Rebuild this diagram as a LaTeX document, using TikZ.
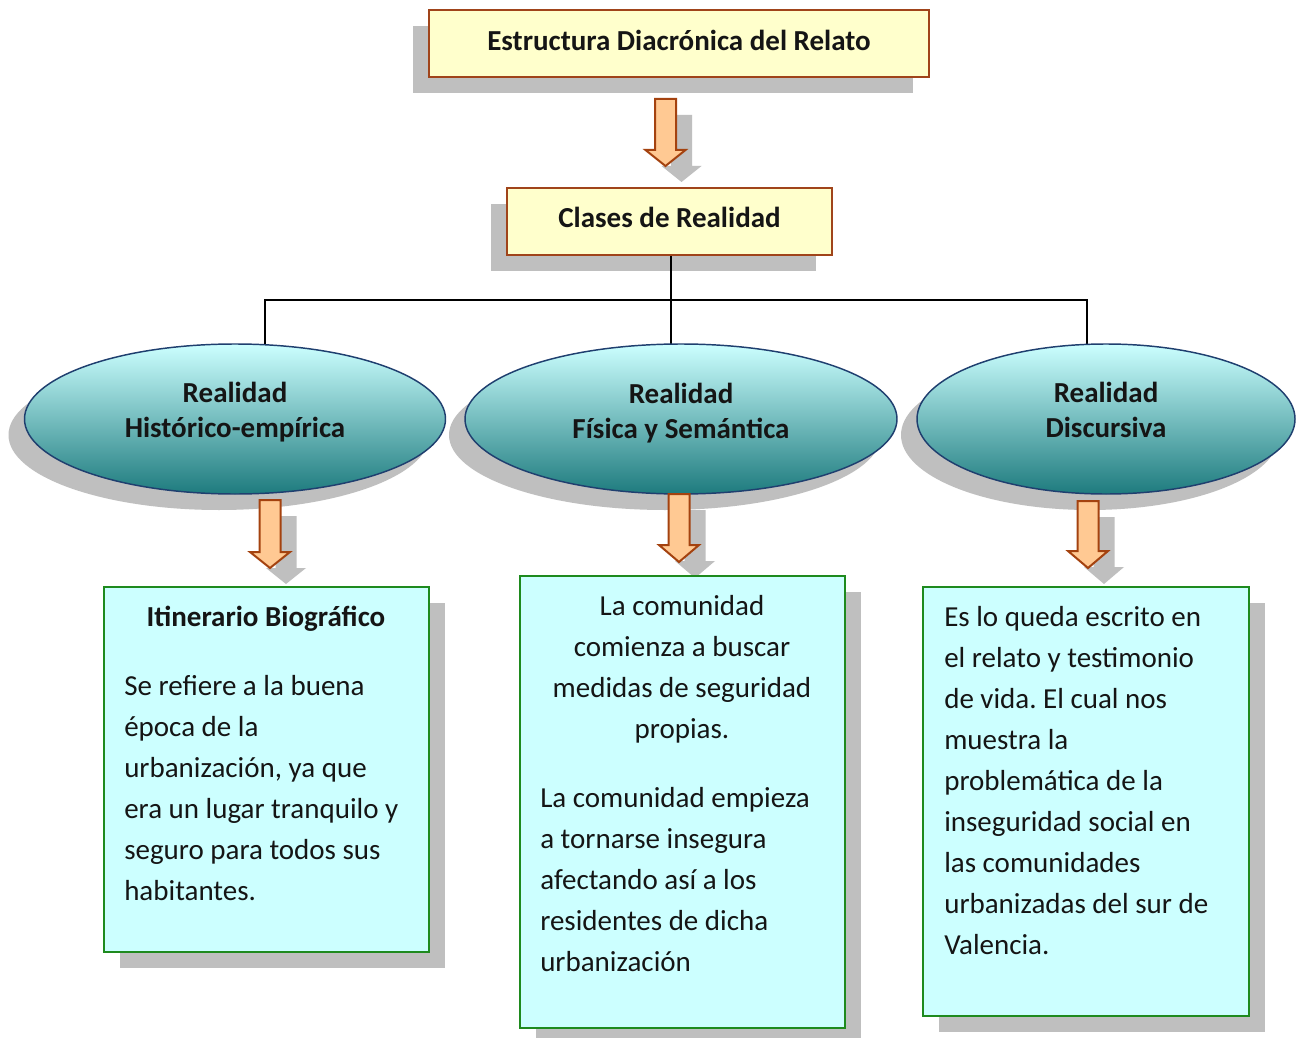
\documentclass[tikz,border=0pt]{standalone}
\usepackage{fontspec}
\setmainfont{Carlito}
\usetikzlibrary{shapes.geometric,shadows}
\definecolor{yfill}{HTML}{FFFFCC}
\definecolor{bord}{HTML}{A0441A}
\definecolor{shgray}{HTML}{BFBFBF}
\definecolor{cfill}{HTML}{CCFFFF}
\definecolor{gbord}{HTML}{1E8A1E}
\definecolor{etop}{HTML}{CCFFFF}
\definecolor{ebot}{HTML}{1E7B7E}
\definecolor{eline}{HTML}{1F3F6F}
\definecolor{afill}{HTML}{FFC993}
\definecolor{aline}{HTML}{A4420F}
\definecolor{txt}{HTML}{151515}
\frenchspacing
\newcommand\bodyfont{\fontsize{21.75pt}{30.75pt}\selectfont}
\newcommand\ellfont{\fontsize{21.75pt}{26.25pt}\selectfont\bfseries}
\newcommand\blockdown[4]{%
  \fill[shgray, shift={(16,16)}] ({#1-10.5},#2) -- ({#1+10.5},#2) -- ({#1+10.5},#3) -- ({#1+20},#3) -- (#1,#4) -- ({#1-20},#3) -- ({#1-10.5},#3) -- cycle;
  \draw[arrowst] ({#1-10.5},#2) -- ({#1+10.5},#2) -- ({#1+10.5},#3) -- ({#1+20},#3) -- (#1,#4) -- ({#1-20},#3) -- ({#1-10.5},#3) -- cycle;}
\begin{document}
\begin{tikzpicture}[x=0.75pt,y=-0.75pt,
  titlebox/.style={rectangle, draw=bord, line width=1.5pt, fill=yfill, inner sep=0pt,
    drop shadow={shadow xshift=-12pt, shadow yshift=-12pt, fill=shgray, opacity=1}},
  infobox/.style={rectangle, draw=gbord, line width=1.5pt, fill=cfill, inner sep=0pt,
    drop shadow={shadow xshift=12pt, shadow yshift=-12pt, fill=shgray, opacity=1}},
  realidad/.style={ellipse, draw=eline, line width=1.1pt, top color=etop, bottom color=ebot, inner sep=0pt, minimum height=112.5pt,
    drop shadow={shadow xshift=-12pt, shadow yshift=-12pt, fill=shgray, opacity=1}},
  arrowst/.style={draw=aline, fill=afill, line width=1.5pt, line join=miter},
  conn/.style={draw=black, line width=1.4pt},
  titletext/.style={font=\bodyfont\bfseries, text=txt, inner sep=0pt},
  ellt/.style={font=\ellfont, text=txt, align=center, inner sep=0pt, anchor=north},
  bodyt/.style={font=\bodyfont, text=txt, inner sep=0pt, anchor=north west, align=left},
  bodyc/.style={font=\bodyfont, text=txt, inner sep=0pt, anchor=north, align=center}]
\useasboundingbox[fill=white] (0,0) rectangle (1299,1038);

% top boxes
\node[titlebox, minimum width=375pt, minimum height=50.25pt] (top) at (679,43.5) {};
\node[titletext, anchor=base] (toptxt) at (679,51) {Estructura Diacrónica del Relato};
\blockdown{665.5}{99}{150}{166}
\node[titlebox, minimum width=243.75pt, minimum height=50.25pt] (clases) at (669.5,221.5) {};
\node[titletext, anchor=base] (clasestxt) at (669.5,227) {Clases de Realidad};

% connectors
\coordinate (hub) at (671,300);
\coordinate (t1) at (265,352);
\coordinate (t2) at (671,352);
\coordinate (t3) at (1087,352);
\draw[conn] (clases.south -| hub) -- (t2);
\draw[conn] (t1) |- (hub) -| (t3);

% ellipses
\node[realidad, minimum width=315.75pt] (e1) at (235,419) {};
\node[ellt] (e1t) at (235,377.5) {\strut Realidad\\Histórico-empírica};
\node[realidad, minimum width=324pt] (e2) at (681,419) {};
\node[ellt] (e2t) at (681,378.5) {\strut Realidad\\Física y Semántica};
\node[realidad, minimum width=283.5pt] (e3) at (1106,419) {};
\node[ellt] (e3t) at (1106,377.5) {\strut Realidad\\Discursiva};

% arrows
\blockdown{270}{500}{552}{568}
\blockdown{679}{494}{545}{562}
\blockdown{1088}{501}{551}{568}

% info boxes
\node[infobox, minimum width=243.75pt, minimum height=273.75pt] (b1) at (266.5,769.5) {};
\node[titletext, anchor=base] (b1h) at (266,626) {Itinerario Biográfico};
\node[bodyt] (b1t) at (124,667) {\strut Se refiere a la buena\\época de la\\urbanización, ya que\\era un lugar tranquilo y\\seguro para todos sus\\habitantes.};

\node[infobox, minimum width=243.75pt, minimum height=339pt] (b2) at (682.5,802) {};
\node[bodyc] (b2a) at (682,587) {\strut La comunidad\\comienza a buscar\\medidas de seguridad\\propias.};
\node[bodyt] (b2b) at (540,779) {\strut La comunidad empieza\\a tornarse insegura\\afectando así a los\\residentes de dicha\\urbanización};

\node[infobox, minimum width=244.5pt, minimum height=321.75pt] (b3) at (1086,801.5) {};
\node[bodyt] (b3t) at (944,597.5) {\strut Es lo queda escrito en\\el relato y testimonio\\de vida. El cual nos\\muestra la\\problemática de la\\inseguridad social en\\las comunidades\\urbanizadas del sur de\\Valencia.};
\end{tikzpicture}
\end{document}
